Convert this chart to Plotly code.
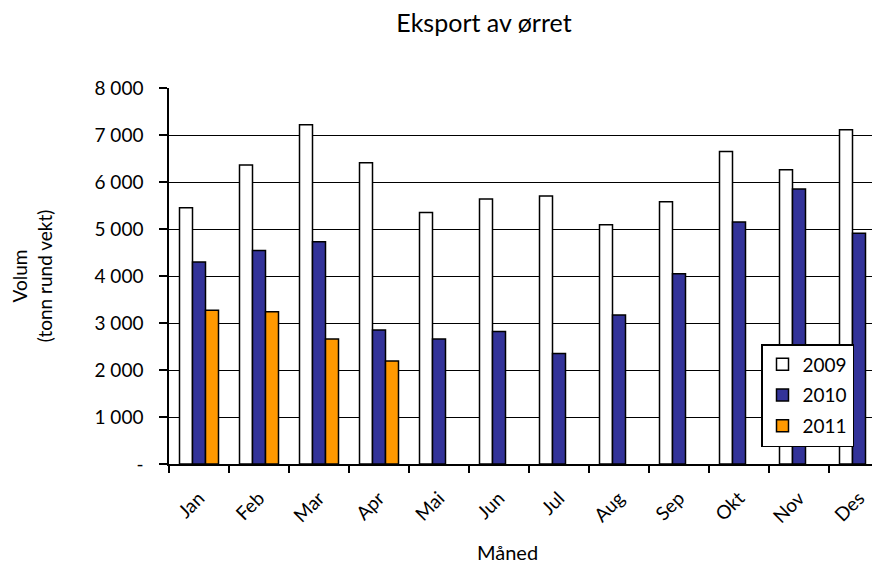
import plotly.graph_objects as go

months = ["Jan", "Feb", "Mar", "Apr", "Mai", "Jun", "Jul", "Aug", "Sep", "Okt", "Nov", "Des"]
v2009 = [5450, 6360, 7220, 6410, 5350, 5640, 5700, 5090, 5580, 6650, 6260, 7110]
v2010 = [4300, 4540, 4730, 2850, 2660, 2820, 2350, 3170, 4050, 5150, 5850, 4910]
v2011 = [3270, 3240, 2660, 2190, None, None, None, None, None, None, None, None]

ytick_vals = [0, 1000, 2000, 3000, 4000, 5000, 6000, 7000, 8000]
ytick_text = ["-", "1 000", "2 000", "3 000", "4 000", "5 000", "6 000", "7 000", "8 000"]

FONT = "Lato"
W, H = 880, 567
OFF = 8  # page body margin
L, R, T, B = 169 - OFF, OFF, 88 - OFF, H - (464 - OFF)
PW = W - L - R
PH = H - T - B

fig = go.Figure()
for name, vals, col in [("2009", v2009, "#FFFFFF"), ("2010", v2010, "#333399"), ("2011", v2011, "#FF9900")]:
    fig.add_trace(go.Bar(
        x=months, y=vals, name=name, legendgroup=name,
        marker=dict(color=col, line=dict(color="#000000", width=1.5)),
    ))

fig.update_layout(
    width=W, height=H,
    margin=dict(l=L, r=R, t=T, b=B, pad=0, autoexpand=False),
    paper_bgcolor="white", plot_bgcolor="white",
    barmode="group", bargap=0.35, bargroupgap=0,
    font=dict(family=FONT, size=19, color="#000000"),
    title=dict(text="Eksport av ørret", x=(484 - OFF) / W, xanchor="center",
               y=1 - (23 - OFF) / H, yanchor="middle", font=dict(family=FONT, size=25)),
    showlegend=True,
    legend=dict(
        x=(761 - 169) / PW, y=(464 - 344) / PH,
        xanchor="left", yanchor="top",
        bgcolor="white", bordercolor="#000000", borderwidth=1.5,
        font=dict(family=FONT, size=19),
        tracegroupgap=3, traceorder="grouped",
    ),
    annotations=[dict(
        text="Måned", xref="paper", yref="paper",
        x=(507 - 169) / PW, y=(464 - 552) / PH,
        xanchor="center", yanchor="middle", showarrow=False,
        font=dict(family=FONT, size=20),
    )],
)

fig.update_xaxes(
    type="category", range=[-0.5, -0.5 + PW / 60.0],
    showline=True, linecolor="#000000", linewidth=1.5,
    ticks="outside", tickson="boundaries", ticklen=7, tickcolor="#000000", tickwidth=1.5,
    tickangle=-45, tickfont=dict(family=FONT, size=19),
    ticklabelstandoff=14,
    showgrid=False,
)
fig.update_yaxes(
    range=[0, 8000], tickvals=ytick_vals, ticktext=ytick_text,
    showline=True, linecolor="#000000", linewidth=1.5,
    ticks="outside", ticklen=8, tickcolor="#000000", tickwidth=1.5,
    ticklabelstandoff=12,
    tickfont=dict(family=FONT, size=19),
    showgrid=True, gridcolor="#000000", gridwidth=1,
    zeroline=False,
    title=dict(text="Volum<br>(tonn rund vekt)", font=dict(family=FONT, size=19), standoff=37),
)

fig.write_html("out.html")
